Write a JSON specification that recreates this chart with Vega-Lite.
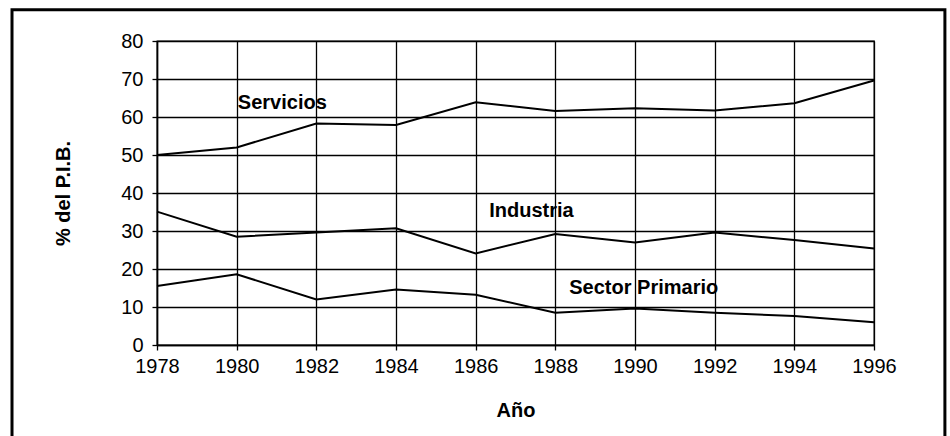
{
  "$schema": "https://vega.github.io/schema/vega-lite/v6.json",
  "autosize": "none",
  "width": 717,
  "height": 304,
  "padding": {"left": 157, "top": 41, "right": 76, "bottom": 91},
  "background": "white",
  "config": {
    "font": "Liberation Sans",
    "view": {"stroke": "black", "strokeWidth": 1.3},
    "axis": {
      "gridColor": "black",
      "gridWidth": 1.3,
      "gridOpacity": 1,
      "domainColor": "black",
      "domainWidth": 1.5,
      "tickColor": "black",
      "tickWidth": 1.3,
      "tickSize": 5,
      "labelColor": "black",
      "labelFontSize": 20,
      "labelFont": "Liberation Sans",
      "labelOverlap": false,
      "labelFlush": false,
      "titleColor": "black",
      "titleFont": "Liberation Sans",
      "titleFontSize": 20,
      "titleFontWeight": "bold"
    },
    "axisX": {"tickCount": 20},
    "axisY": {"tickCount": 12}
  },
  "datasets": {
    "series": [
      {"year": 1978, "sector": "Servicios", "value": 50.0},
      {"year": 1980, "sector": "Servicios", "value": 52.0},
      {"year": 1982, "sector": "Servicios", "value": 58.3},
      {"year": 1984, "sector": "Servicios", "value": 57.9},
      {"year": 1986, "sector": "Servicios", "value": 63.9},
      {"year": 1988, "sector": "Servicios", "value": 61.6},
      {"year": 1990, "sector": "Servicios", "value": 62.3},
      {"year": 1992, "sector": "Servicios", "value": 61.7},
      {"year": 1994, "sector": "Servicios", "value": 63.6},
      {"year": 1996, "sector": "Servicios", "value": 69.6},
      {"year": 1978, "sector": "Industria", "value": 35.1},
      {"year": 1980, "sector": "Industria", "value": 28.5},
      {"year": 1982, "sector": "Industria", "value": 29.6},
      {"year": 1984, "sector": "Industria", "value": 30.7},
      {"year": 1986, "sector": "Industria", "value": 24.1},
      {"year": 1988, "sector": "Industria", "value": 29.2},
      {"year": 1990, "sector": "Industria", "value": 27.0},
      {"year": 1992, "sector": "Industria", "value": 29.6},
      {"year": 1994, "sector": "Industria", "value": 27.6},
      {"year": 1996, "sector": "Industria", "value": 25.4},
      {"year": 1978, "sector": "Sector Primario", "value": 15.5},
      {"year": 1980, "sector": "Sector Primario", "value": 18.6},
      {"year": 1982, "sector": "Sector Primario", "value": 12.0},
      {"year": 1984, "sector": "Sector Primario", "value": 14.6},
      {"year": 1986, "sector": "Sector Primario", "value": 13.2},
      {"year": 1988, "sector": "Sector Primario", "value": 8.5},
      {"year": 1990, "sector": "Sector Primario", "value": 9.6},
      {"year": 1992, "sector": "Sector Primario", "value": 8.5},
      {"year": 1994, "sector": "Sector Primario", "value": 7.6},
      {"year": 1996, "sector": "Sector Primario", "value": 6.0}
    ],
    "labels": [
      {"label": "Servicios", "year": 1980.03, "value": 63.7},
      {"label": "Industria", "year": 1986.34, "value": 35.3},
      {"label": "Sector Primario", "year": 1988.35, "value": 14.9}
    ]
  },
  "layer": [
    {
      "data": {"name": "series"},
      "mark": {"type": "line", "color": "black", "strokeWidth": 2},
      "encoding": {
        "x": {
          "field": "year",
          "type": "quantitative",
          "scale": {"domain": [1978, 1996], "nice": false, "zero": false},
          "axis": {
            "values": [1978, 1980, 1982, 1984, 1986, 1988, 1990, 1992, 1994, 1996],
            "tickCount": 20,
            "format": "d",
            "labelPadding": 6,
            "title": "Año",
            "titlePadding": 24
          }
        },
        "y": {
          "field": "value",
          "type": "quantitative",
          "scale": {"domain": [0, 80], "nice": false},
          "axis": {
            "values": [0, 10, 20, 30, 40, 50, 60, 70, 80],
            "tickCount": 12,
            "labelPadding": 9,
            "title": "% del P.I.B.",
            "titlePadding": 47
          }
        },
        "detail": {"field": "sector"}
      }
    },
    {
      "data": {"name": "labels"},
      "mark": {"type": "text", "align": "left", "baseline": "middle", "fontSize": 20, "fontWeight": "bold", "font": "Liberation Sans", "color": "black"},
      "encoding": {
        "x": {
          "field": "year",
          "type": "quantitative",
          "axis": {
            "values": [1978, 1980, 1982, 1984, 1986, 1988, 1990, 1992, 1994, 1996],
            "tickCount": 20,
            "format": "d",
            "labelPadding": 6,
            "title": "Año",
            "titlePadding": 24
          }
        },
        "y": {
          "field": "value",
          "type": "quantitative",
          "axis": {
            "values": [0, 10, 20, 30, 40, 50, 60, 70, 80],
            "tickCount": 12,
            "labelPadding": 9,
            "title": "% del P.I.B.",
            "titlePadding": 47
          }
        },
        "text": {"field": "label"}
      }
    },
    {
      "data": {"values": [{}]},
      "mark": {"type": "rect", "fill": null, "fillOpacity": 0, "stroke": "black", "strokeWidth": 3, "clip": false},
      "encoding": {
        "x": {
          "datum": 1974.36,
          "type": "quantitative",
          "axis": {
            "values": [1978, 1980, 1982, 1984, 1986, 1988, 1990, 1992, 1994, 1996],
            "tickCount": 20,
            "format": "d",
            "labelPadding": 6,
            "title": "Año",
            "titlePadding": 24
          }
        },
        "x2": {"datum": 1997.78},
        "y": {
          "datum": 88.2,
          "type": "quantitative",
          "axis": {
            "values": [0, 10, 20, 30, 40, 50, 60, 70, 80],
            "tickCount": 12,
            "labelPadding": 9,
            "title": "% del P.I.B.",
            "titlePadding": 47
          }
        },
        "y2": {"datum": -25}
      }
    }
  ]
}
